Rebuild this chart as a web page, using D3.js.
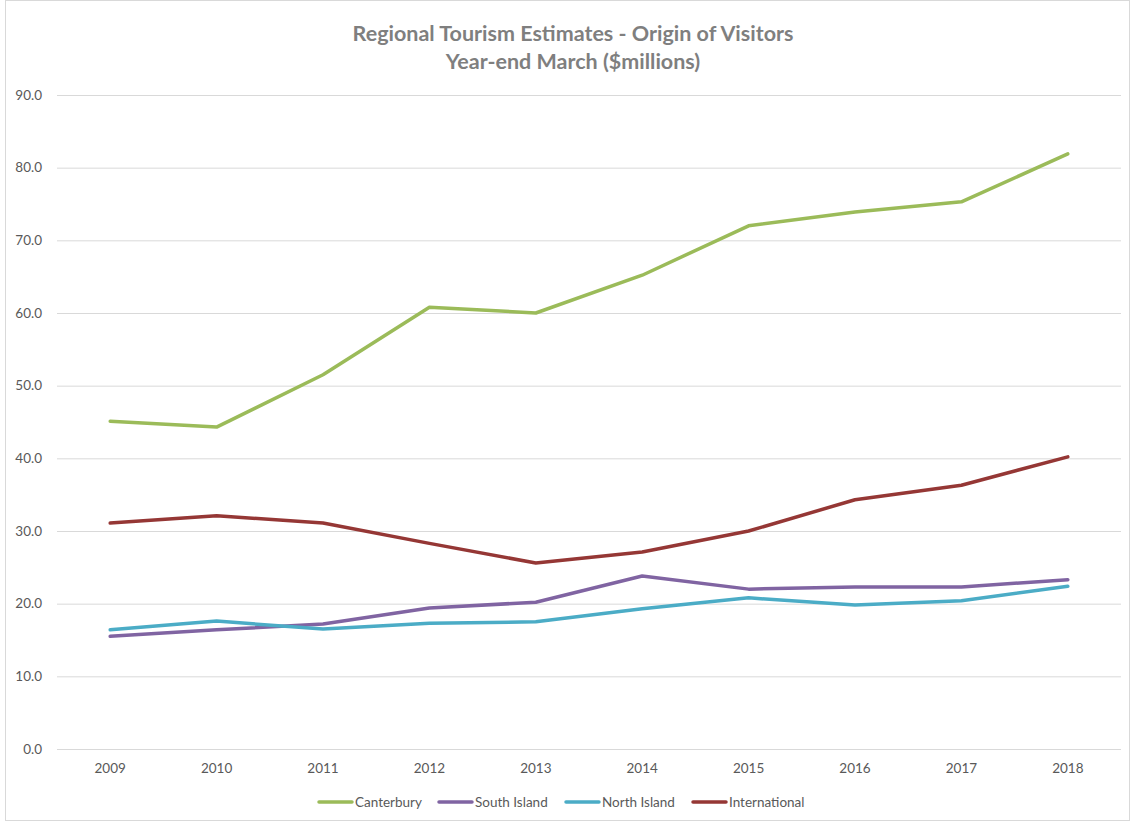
<!DOCTYPE html>
<html><head><meta charset="utf-8">
<script src="https://cdn.jsdelivr.net/npm/d3@7"></script>
<style>body{margin:0;background:#fff}svg{display:block}</style>
</head><body>
<svg id="c" width="1131" height="822"></svg>
<script>
const years = ["2009","2010","2011","2012","2013","2014","2015","2016","2017","2018"];
const canterbury = [45.1,44.3,51.5,60.8,60.0,65.2,72.0,73.9,75.3,81.9];
const southIsland = [15.5,16.4,17.2,19.4,20.2,23.8,22.0,22.3,22.3,23.3];
const northIsland = [16.4,17.6,16.5,17.3,17.5,19.3,20.8,19.8,20.4,22.4];
const international = [31.1,32.1,31.1,28.3,25.6,27.1,30.0,34.3,36.3,40.2];
const yTicks = [0,10,20,30,40,50,60,70,80,90];
const seriesNames = ["Canterbury","South Island","North Island","International"];
const seriesColors = ["#9BBB59","#8064A2","#4BACC6","#953735"];
const seriesData = [canterbury, southIsland, northIsland, international];

const svg = d3.select("#c");
const font = "Lato, 'Liberation Sans', sans-serif";
svg.append("rect").attr("x",5.5).attr("y",0.5).attr("width",1124).attr("height",820)
  .attr("fill","#fff").attr("stroke","#d9d9d9");

const x = d3.scaleBand().domain(years).range([57,1121]);
const y = d3.scaleLinear().domain([0,90]).range([749,95]);

// gridlines
const g = svg.append("g");
g.selectAll("line.grid").data(yTicks).join("line")
  .attr("x1",57).attr("x2",1121)
  .attr("y1",d=>y(d)+0.5).attr("y2",d=>y(d)+0.5)
  .attr("stroke","#d9d9d9").attr("stroke-width",1);

// y labels
const yAxis = d3.axisLeft(y).tickValues(yTicks).tickFormat(d3.format(".1f")).tickSize(0).tickPadding(15);
const ya = svg.append("g").attr("transform","translate(57,0)").call(yAxis);
ya.select(".domain").remove();
ya.selectAll("text").attr("fill","#595959").style("font-family",font).style("font-size","13.5px");

// x labels
const xAxis = d3.axisBottom(x).tickSize(0).tickPadding(14);
const xa = svg.append("g").attr("transform","translate(0,749)").call(xAxis);
xa.select(".domain").remove();
xa.selectAll("text").attr("fill","#595959").style("font-family",font).style("font-size","13.5px");

// lines
const line = d3.line().x((d,i)=>x(years[i])+x.bandwidth()/2).y(d=>y(d));
seriesData.forEach((s,k)=>{
  svg.append("path").datum(s).attr("d",line).attr("fill","none")
    .attr("stroke",seriesColors[k]).attr("stroke-width",3.5)
    .attr("stroke-linejoin","round").attr("stroke-linecap","round");
});

// title
const t = svg.append("text").attr("x",573).attr("text-anchor","middle")
  .attr("fill","#7f7f7f").style("font-family",font).style("font-weight","bold").style("font-size","21.5px");
t.append("tspan").attr("x",573).attr("y",41).text("Regional Tourism Estimates - Origin of Visitors");
t.append("tspan").attr("x",573).attr("y",69).text("Year-end March ($millions)");

// legend
const legX = [319,439,566,693];
const lg = svg.append("g");
seriesNames.forEach((n,k)=>{
  const gx = legX[k];
  lg.append("line").attr("x1",gx).attr("x2",gx+33).attr("y1",802).attr("y2",802)
    .attr("stroke",seriesColors[k]).attr("stroke-width",3.5).attr("stroke-linecap","round");
  lg.append("text").attr("x",gx+36).attr("y",806.5).text(n)
    .attr("fill","#595959").style("font-family",font).style("font-size","13.5px");
});
</script>
</body></html>
